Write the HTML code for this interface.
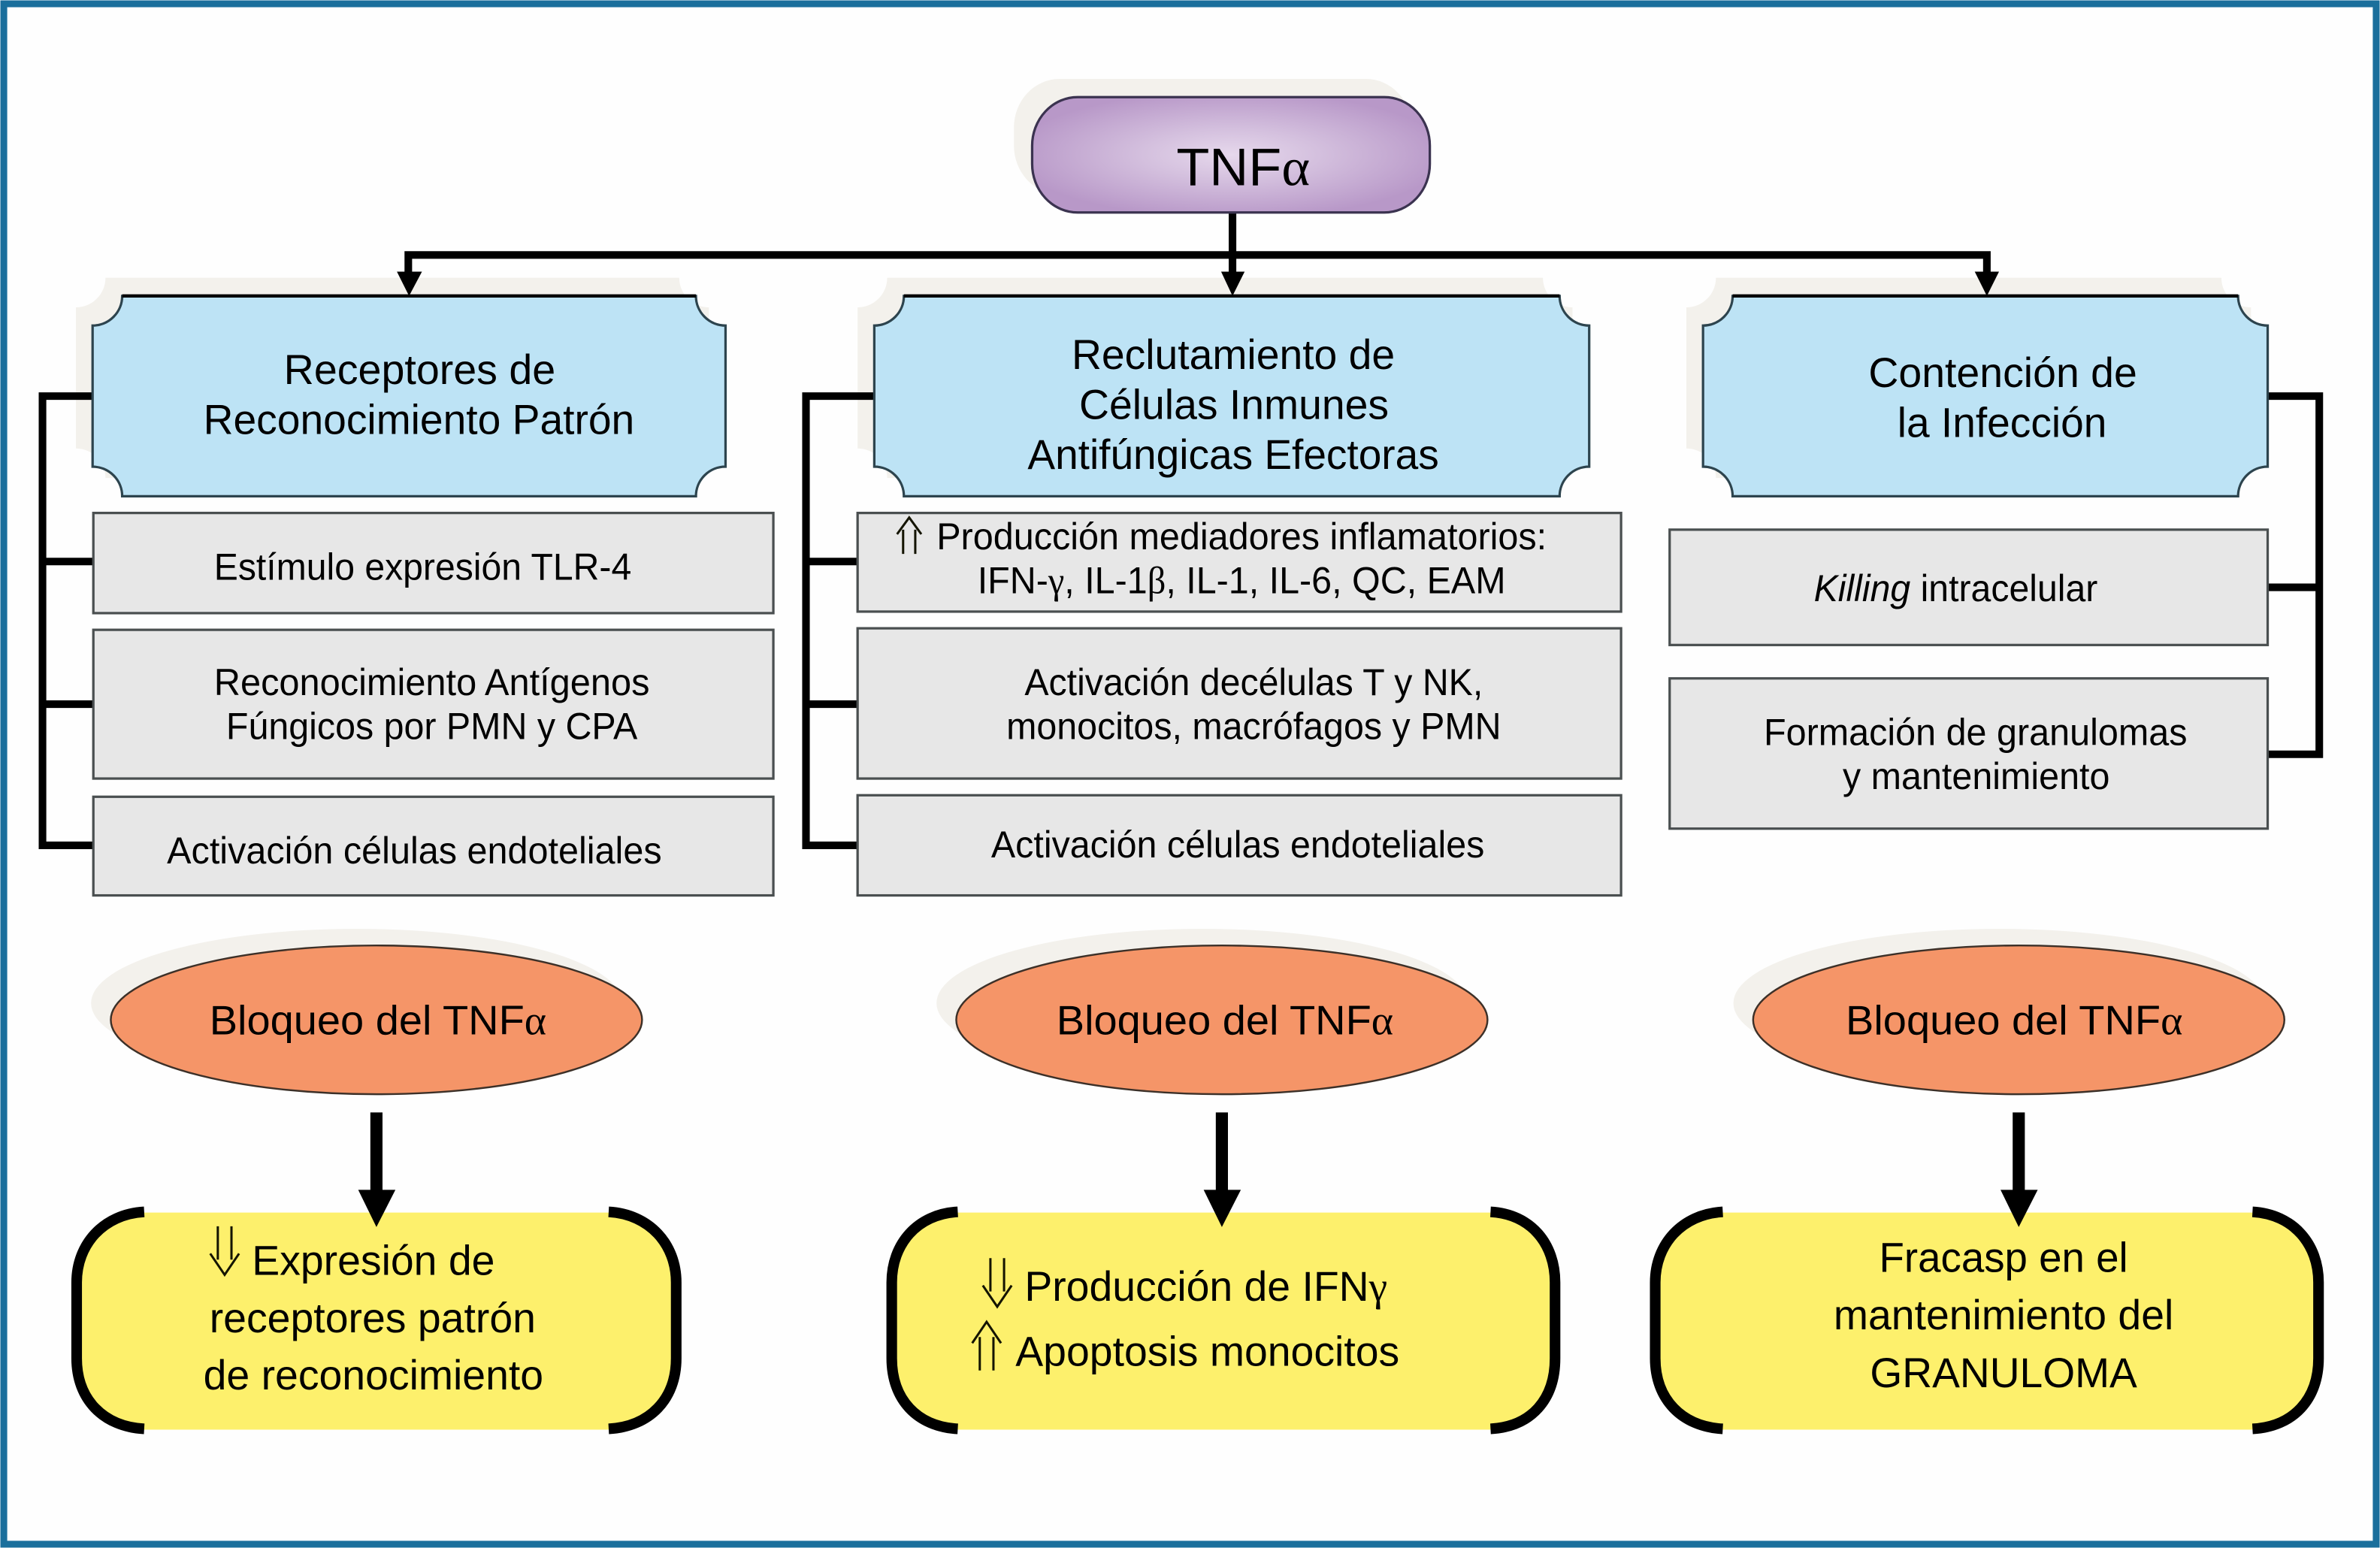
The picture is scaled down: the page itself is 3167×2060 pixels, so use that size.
<!DOCTYPE html>
<html lang="es">
<head>
<meta charset="utf-8">
<title>TNFα</title>
<style>
html,body{margin:0;padding:0;background:#fff;width:3167px;height:2060px;overflow:hidden}
svg{display:block}
text{font-family:"Liberation Sans",sans-serif;fill:#000}
.g{font-family:"Liberation Serif",serif}
.h{font-size:27.5px}
.b{font-size:25px}
.e{font-size:27px}
.y{font-size:27.5px}
</style>
</head>
<body>
<svg width="3167" height="2060" viewBox="0 0 1568 1020" preserveAspectRatio="none" xmlns="http://www.w3.org/2000/svg">
<defs>
<radialGradient id="p" cx="50%" cy="50%" r="55%">
<stop offset="0" stop-color="#e6d8ec"/>
<stop offset="0.4" stop-color="#d4c0de"/>
<stop offset="1" stop-color="#b898c8"/>
</radialGradient>
</defs>
<rect width="1568" height="1020" fill="#fff"/>
<rect x="2.5" y="2.5" width="1563" height="1015" fill="#fefefe" stroke="#1a6f9c" stroke-width="4.5"/>

<!-- shadows -->
<g fill="#f3f1ec">
<rect x="668" y="52" width="262" height="76" rx="30" ry="32"/>
<path transform="translate(-11,-12)" d="M80.5,195H458.5A19.5,19.5 0 0 0 478,214.5V307.5A19.5,19.5 0 0 0 458.5,327H80.5A19.5,19.5 0 0 0 61,307.5V214.5A19.5,19.5 0 0 0 80.5,195Z"/>
<path transform="translate(-11,-12)" d="M595.5,195H1027.5A19.5,19.5 0 0 0 1047,214.5V307.5A19.5,19.5 0 0 0 1027.5,327H595.5A19.5,19.5 0 0 0 576,307.5V214.5A19.5,19.5 0 0 0 595.5,195Z"/>
<path transform="translate(-11,-12)" d="M1141.5,195H1474.5A19.5,19.5 0 0 0 1494,214.5V307.5A19.5,19.5 0 0 0 1474.5,327H1141.5A19.5,19.5 0 0 0 1122,307.5V214.5A19.5,19.5 0 0 0 1141.5,195Z"/>
<ellipse cx="235" cy="661" rx="175" ry="49"/>
<ellipse cx="792" cy="661" rx="175" ry="49"/>
<ellipse cx="1317" cy="661" rx="175" ry="49"/>
</g>

<!-- connectors -->
<g fill="none" stroke="#000" stroke-width="5">
<path d="M269,182V168H1309V182"/>
<path d="M812,140V182"/>
<path d="M61,261H28V557H61M28,370H61M28,464H61"/>
<path d="M576,261H531V557H565M531,370H565M531,464H565"/>
<path d="M1494,261H1528V497H1494M1494,387H1528"/>
</g>
<g fill="#000">
<path d="M261.5,179H278L269.5,195Z"/>
<path d="M804.5,179H820L812,195Z"/>
<path d="M1301,179H1317L1309,195Z"/>
</g>

<!-- TNF -->
<rect x="680" y="64" width="262" height="76" rx="30" ry="32" fill="url(#p)" stroke="#3b3350" stroke-width="1.6"/>
<text x="775" y="122" font-size="35" textLength="88" lengthAdjust="spacingAndGlyphs">TNF<tspan class="g">α</tspan></text>

<!-- blue boxes -->
<g fill="#bde3f5" stroke="#2d444e" stroke-width="1.6">
<path d="M80.5,195H458.5A19.5,19.5 0 0 0 478,214.5V307.5A19.5,19.5 0 0 0 458.5,327H80.5A19.5,19.5 0 0 0 61,307.5V214.5A19.5,19.5 0 0 0 80.5,195Z"/>
<path d="M595.5,195H1027.5A19.5,19.5 0 0 0 1047,214.5V307.5A19.5,19.5 0 0 0 1027.5,327H595.5A19.5,19.5 0 0 0 576,307.5V214.5A19.5,19.5 0 0 0 595.5,195Z"/>
<path d="M1141.5,195H1474.5A19.5,19.5 0 0 0 1494,214.5V307.5A19.5,19.5 0 0 0 1474.5,327H1141.5A19.5,19.5 0 0 0 1122,307.5V214.5A19.5,19.5 0 0 0 1141.5,195Z"/>
</g>
<g stroke="#000" stroke-width="2.2">
<path d="M80.5,195H458.5"/><path d="M595.5,195H1027.5"/><path d="M1141.5,195H1474.5"/>
</g>
<text class="h" x="187" y="253" textLength="179" lengthAdjust="spacingAndGlyphs">Receptores de</text>
<text class="h" x="134" y="286" textLength="284" lengthAdjust="spacingAndGlyphs">Reconocimiento Patrón</text>
<text class="h" x="706" y="243" textLength="213" lengthAdjust="spacingAndGlyphs">Reclutamiento de</text>
<text class="h" x="711" y="276" textLength="204" lengthAdjust="spacingAndGlyphs">Células Inmunes</text>
<text class="h" x="677" y="309" textLength="271" lengthAdjust="spacingAndGlyphs">Antifúngicas Efectoras</text>
<text class="h" x="1231" y="255" textLength="177" lengthAdjust="spacingAndGlyphs">Contención de</text>
<text class="h" x="1250" y="288" textLength="138" lengthAdjust="spacingAndGlyphs">la Infección</text>

<!-- grey boxes -->
<g fill="#e7e7e7" stroke="#4a4f50" stroke-width="1.6">
<rect x="61.5" y="338" width="448" height="66"/>
<rect x="61.5" y="415" width="448" height="98"/>
<rect x="61.5" y="525" width="448" height="65"/>
<rect x="565" y="338" width="503" height="65"/>
<rect x="565" y="414" width="503" height="99"/>
<rect x="565" y="524" width="503" height="66"/>
<rect x="1100" y="349" width="394" height="76"/>
<rect x="1100" y="447" width="394" height="99"/>
</g>
<text class="b" x="141" y="382" textLength="275" lengthAdjust="spacingAndGlyphs">Estímulo expresión TLR-4</text>
<text class="b" x="141" y="458" textLength="287" lengthAdjust="spacingAndGlyphs">Reconocimiento Antígenos</text>
<text class="b" x="149" y="487" textLength="271" lengthAdjust="spacingAndGlyphs">Fúngicos por PMN y CPA</text>
<text class="b" x="110" y="569" textLength="326" lengthAdjust="spacingAndGlyphs">Activación células endoteliales</text>
<text class="b" x="617" y="362" textLength="402" lengthAdjust="spacingAndGlyphs">Producción mediadores inflamatorios:</text>
<text class="b" x="644" y="391" textLength="348" lengthAdjust="spacingAndGlyphs">IFN-<tspan class="g">γ</tspan>, IL-1<tspan class="g">β</tspan>, IL-1, IL-6, QC, EAM</text>
<text class="b" x="675" y="458" textLength="302" lengthAdjust="spacingAndGlyphs">Activación decélulas T y NK,</text>
<text class="b" x="663" y="487" textLength="326" lengthAdjust="spacingAndGlyphs">monocitos, macrófagos y PMN</text>
<text class="b" x="653" y="565" textLength="325" lengthAdjust="spacingAndGlyphs">Activación células endoteliales</text>
<text class="b" x="1195" y="396" textLength="187" lengthAdjust="spacingAndGlyphs"><tspan font-style="italic">Killing</tspan> intracelular</text>
<text class="b" x="1162" y="491" textLength="279" lengthAdjust="spacingAndGlyphs">Formación de granulomas</text>
<text class="b" x="1214" y="520" textLength="176" lengthAdjust="spacingAndGlyphs">y mantenimiento</text>

<!-- ellipses -->
<g fill="#f59568" stroke="#3c3028" stroke-width="1.2">
<ellipse cx="248" cy="672" rx="175" ry="49"/>
<ellipse cx="805" cy="672" rx="175" ry="49"/>
<ellipse cx="1330" cy="672" rx="175" ry="49"/>
</g>
<text class="e" x="138" y="681.5" textLength="222" lengthAdjust="spacingAndGlyphs">Bloqueo del TNF<tspan class="g">α</tspan></text>
<text class="e" x="696" y="681.5" textLength="222" lengthAdjust="spacingAndGlyphs">Bloqueo del TNF<tspan class="g">α</tspan></text>
<text class="e" x="1216" y="681.5" textLength="222" lengthAdjust="spacingAndGlyphs">Bloqueo del TNF<tspan class="g">α</tspan></text>

<!-- yellow boxes -->
<g fill="#fdf06c">
<rect x="52" y="799" width="393" height="143" rx="42"/>
<rect x="588" y="799" width="436" height="143" rx="42"/>
<rect x="1091" y="799" width="436" height="143" rx="42"/>
</g>
<g fill="none" stroke="#000" stroke-width="7">
<path d="M95,798.5C68,800 50.5,820 50.5,845V895C50.5,922 68,940 95,941.5"/>
<path d="M401,798.5C428,800 445.5,820 445.5,845V895C445.5,922 428,940 401,941.5"/>
<path d="M631,798.5C604,800 587.5,820 587.5,845V895C587.5,922 604,940 631,941.5"/>
<path d="M982,798.5C1009,800 1024.5,820 1024.5,845V895C1024.5,922 1009,940 982,941.5"/>
<path d="M1135,798.5C1108,800 1090.5,820 1090.5,845V895C1090.5,922 1108,940 1135,941.5"/>
<path d="M1484,798.5C1511,800 1527.5,820 1527.5,845V895C1527.5,922 1511,940 1484,941.5"/>
</g>

<!-- block arrows -->
<g fill="#000">
<path d="M244,733H252V784H260.5L248,808.5L236,784H244Z"/>
<path d="M801,733H809V784H817.5L805,808.5L793,784H801Z"/>
<path d="M1326,733H1334V784H1342.5L1330,808.5L1318,784H1326Z"/>
</g>

<!-- hollow arrows -->
<g fill="none" stroke="#141400" stroke-width="1.5">
<path d="M143.5,808V830M152.5,808V830M138.5,826L148,840L157.5,826"/>
<path d="M652.5,829V851M661.5,829V851M647.5,847L657,861L666.5,847"/>
<path d="M645.5,903V881M654.5,903V881M640.5,885L650,871L659.5,885"/>
<path d="M595,365V349M603,365V349M591,352L599,341L607,352"/>
</g>

<text class="y" x="166" y="840" textLength="160" lengthAdjust="spacingAndGlyphs">Expresión de</text>
<text class="y" x="138" y="878" textLength="215" lengthAdjust="spacingAndGlyphs">receptores patrón</text>
<text class="y" x="134" y="915.5" textLength="224" lengthAdjust="spacingAndGlyphs">de reconocimiento</text>
<text class="y" x="675" y="857" textLength="239" lengthAdjust="spacingAndGlyphs">Producción de IFN<tspan class="g">γ</tspan></text>
<text class="y" x="669" y="900" textLength="253" lengthAdjust="spacingAndGlyphs">Apoptosis monocitos</text>
<text class="y" x="1238" y="838" textLength="164" lengthAdjust="spacingAndGlyphs">Fracasp en el</text>
<text class="y" x="1208" y="876" textLength="224" lengthAdjust="spacingAndGlyphs">mantenimiento del</text>
<text class="y" x="1232" y="914" textLength="176" lengthAdjust="spacingAndGlyphs">GRANULOMA</text>
</svg>
</body>
</html>
